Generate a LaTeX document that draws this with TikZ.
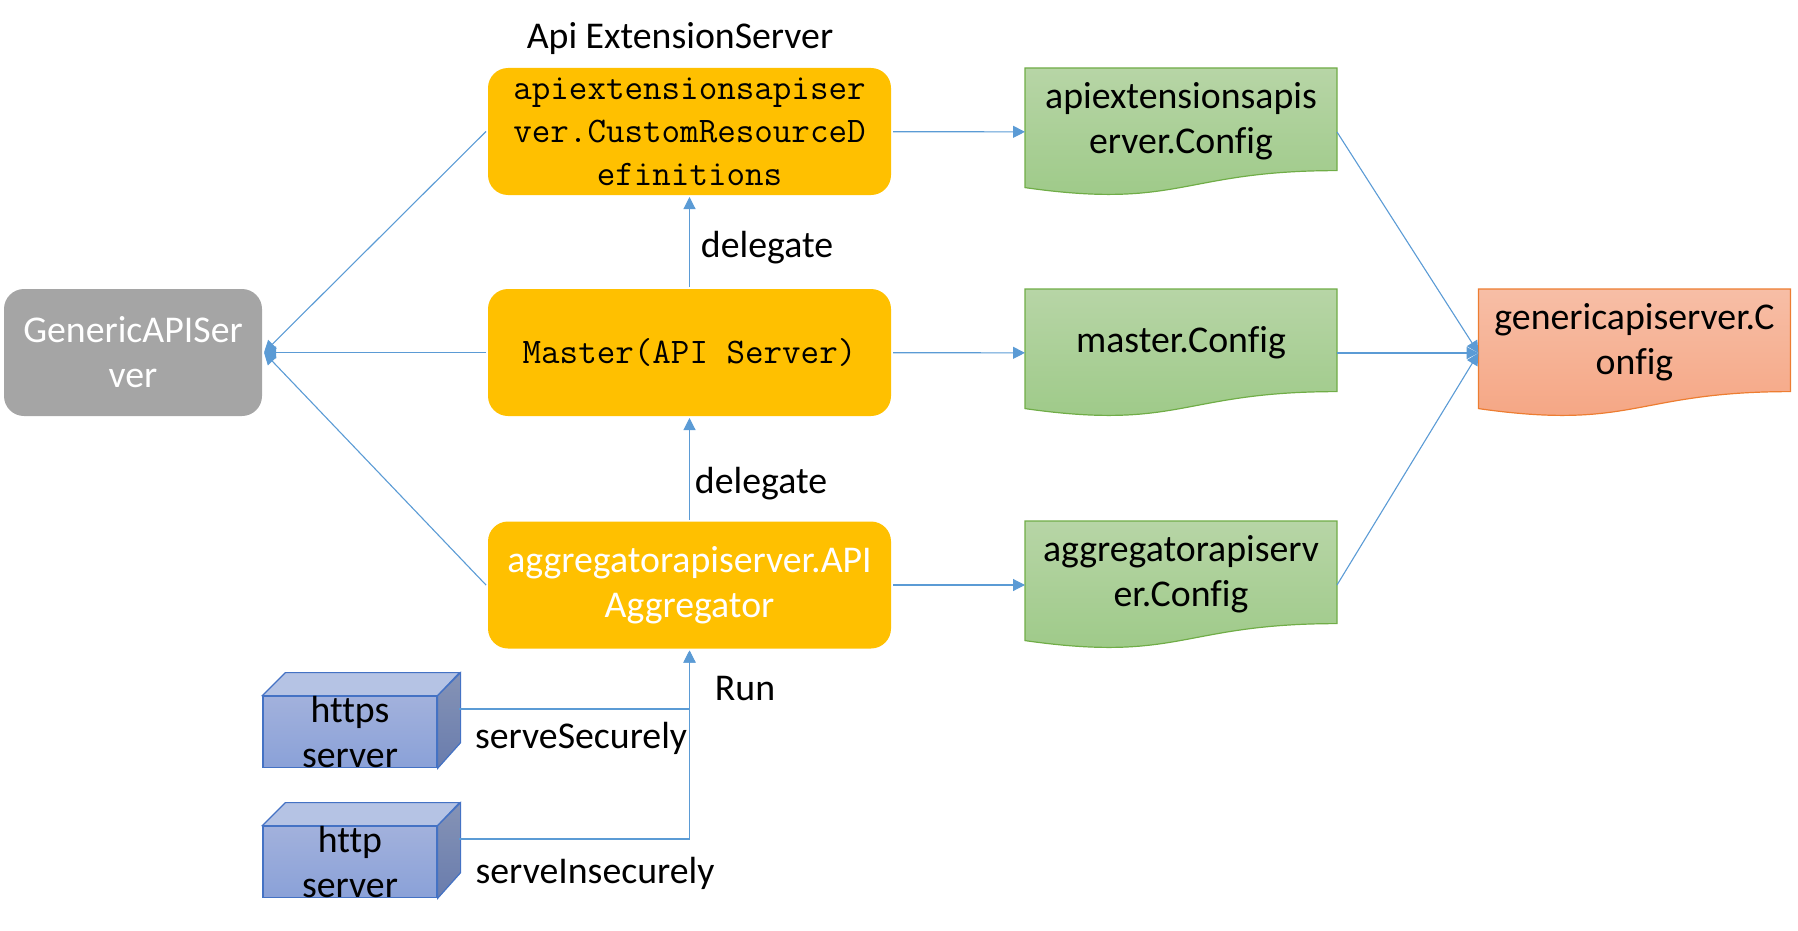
\documentclass[tikz,border=0pt]{standalone}
\usepackage{fontspec}
\setmainfont{Carlito}[Ligatures=NoCommon]
\definecolor{boxOrange}{HTML}{FFC000}
\definecolor{boxGray}{HTML}{A5A5A5}
\definecolor{lineBlue}{HTML}{5B9BD5}
\definecolor{greenTop}{HTML}{B7D5A6}
\definecolor{greenBottom}{HTML}{9CC986}
\definecolor{greenBorder}{HTML}{70AD47}
\definecolor{salmonTop}{HTML}{F7BEA6}
\definecolor{salmonBottom}{HTML}{F5A481}
\definecolor{salmonBorder}{HTML}{ED7D31}
\definecolor{cubeTop}{HTML}{B5C3E4}
\definecolor{cubeFrontTop}{HTML}{A2B1DC}
\definecolor{cubeFrontBottom}{HTML}{8AA1D8}
\definecolor{cubeSideTop}{HTML}{8593B6}
\definecolor{cubeSideBottom}{HTML}{697CAD}
\definecolor{cubeBorder}{HTML}{4472C4}
\usetikzlibrary{calc, arrows.meta, backgrounds}

\newcommand{\doclift}{\\[-8.5pt]\mbox{}}

\tikzset{
  sansText/.style={font=\fontsize{18.9}{22.5}\selectfont, align=center},
  monoText/.style={font=\ttfamily\fontsize{18}{21.5}\selectfont, align=center},
  roundbox/.style={fill=boxOrange, rounded corners=10pt, inner sep=0pt, outer sep=1pt,
                   minimum width=201.5pt, minimum height=63.5pt},
  docbox/.style={sansText, inner sep=0pt, outer sep=0pt,
                 minimum width=156pt, minimum height=64pt},
  cubebox/.style={sansText, draw=cubeBorder, line width=0.6pt, inner sep=0pt,
                  top color=cubeFrontTop, bottom color=cubeFrontBottom,
                  minimum width=87pt, minimum height=35pt},
  textlabel/.style={sansText, inner sep=0pt},
  link/.style={draw=lineBlue, line width=0.55pt},
  linkarrow/.style={link, -{Triangle[length=6pt, width=6pt]}}
}

\begin{document}
\begin{tikzpicture}[x=0.5pt, y=-0.5pt]
  \useasboundingbox (0,0) rectangle (1798,931);

  % central column
  \node[roundbox, monoText] (extserver) at (689.5,131.5) {apiextensionsapiser\\ver.CustomResourceD\\efinitions};
  \node[roundbox, monoText] (master) at (689.5,352.5) {Master(API Server)};
  \node[roundbox, sansText, text=white] (aggregator) at (689.5,585) {aggregatorapiserver.API\\Aggregator};
  \node[roundbox, sansText, text=white, fill=boxGray, minimum width=129pt] (generic) at (133,352.5) {GenericAPISer\\ver};

  % configs
  \node[docbox] (extconfig) at (1181,132) {apiextensionsapis\\erver.Config\doclift};
  \node[docbox] (masterconfig) at (1181,353) {master.Config\doclift};
  \node[docbox] (aggregatorconfig) at (1181,585) {aggregatorapiserv\\er.Config\doclift};
  \node[docbox] (genericconfig) at (1634.5,353) {genericapiserver.C\\onfig\doclift};

  % servers
  \node[cubebox] (https) at (350,732) {https\\server};
  \node[cubebox] (http) at (350,862) {http\\server};
  \coordinate (httpsport) at (459,709);
  \coordinate (httpport) at (459,839);

  % labels
  \node[textlabel] (extlabel) at (680,39) {Api ExtensionServer};
  \node[textlabel] (delegateupper) at (767,248) {delegate};
  \node[textlabel] (delegatelower) at (761,484) {delegate};
  \node[textlabel] (runlabel) at (745,689) {Run};
  \node[textlabel] (securelabel) at (581,738) {serveSecurely};
  \node[textlabel] (insecurelabel) at (595,873) {serveInsecurely};

  \begin{scope}[on background layer]
    \foreach \docname/\doctop/\docbottom/\docborder in {extconfig/greenTop/greenBottom/greenBorder,
        masterconfig/greenTop/greenBottom/greenBorder, aggregatorconfig/greenTop/greenBottom/greenBorder,
        genericconfig/salmonTop/salmonBottom/salmonBorder} {
      \draw[draw=\docborder, line width=0.6pt, top color=\doctop, bottom color=\docbottom]
        (\docname.north west) -- (\docname.north east) -- ($(\docname.south east)+(0,12.7pt)$)
        .. controls ($(\docname.south)+(0,12.7pt)$) and ($(\docname.south)+(0,-6.9pt)$) .. ($(\docname.south west)+(0,4.2pt)$) -- cycle;
    }
    \foreach \cubename in {https, http} {
      \draw[draw=cubeBorder, line width=0.6pt, fill=cubeTop]
        (\cubename.north west) -- ++(11.5pt,11.5pt) -- ++(87pt,0pt) -- (\cubename.north east) -- cycle;
      \draw[draw=cubeBorder, line width=0.6pt, top color=cubeSideTop, bottom color=cubeSideBottom]
        (\cubename.north east) -- ++(11.5pt,11.5pt) -- ++(0pt,-35pt) -- (\cubename.south east) -- cycle;
    }
  \end{scope}

  % connectors
  \draw[linkarrow] (extserver) -- (extconfig);
  \draw[linkarrow] (master) -- (masterconfig);
  \draw[linkarrow] (aggregator) -- (aggregatorconfig);
  \draw[linkarrow] (master) -- (extserver);
  \draw[linkarrow] (aggregator) -- (master);
  \draw[linkarrow] (extserver.west) -- (generic.east);
  \draw[linkarrow] (master.west) -- (generic.east);
  \draw[linkarrow] (aggregator.west) -- (generic.east);
  \draw[linkarrow] (extconfig.east) -- (genericconfig.west);
  \draw[linkarrow] (masterconfig.east) -- (genericconfig.west);
  \draw[linkarrow] (aggregatorconfig.east) -- (genericconfig.west);
  \draw[linkarrow] (httpsport) -| (aggregator.south);
  \draw[linkarrow] (httpport) -| (aggregator.south);
\end{tikzpicture}
\end{document}
